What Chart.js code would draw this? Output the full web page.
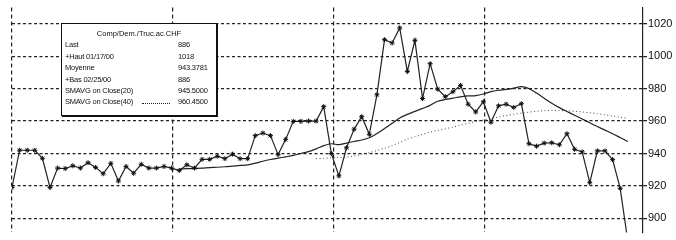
<!DOCTYPE html>
<html>
<head>
<meta charset="utf-8">
<script src="https://cdn.jsdelivr.net/npm/chart.js@4/dist/chart.umd.min.js"></script>
<style>
  html, body { margin: 0; padding: 0; background: #fff; }
  #wrap { position: relative; width: 676px; height: 240px; }
  #legendBox {
    position: absolute; left: 61px; top: 23px; width: 154px; height: 91px;
    background: #fff; border: 1px solid #111; box-shadow: 1px 1px 0 #111;
    font-family: "Liberation Sans Narrow", "Liberation Sans", Arial, sans-serif;
    font-size: 7.5px; color: #111; line-height: 11.4px;
  }
  #legendBox .title { text-align: center; margin-top: 4px; margin-bottom: 0; }
  #legendBox .row { position: relative; height: 11.4px; padding-left: 3px; letter-spacing: -0.2px; }
  #legendBox .row span.v { position: absolute; left: 116px; }
  #legendBox .dots { position: absolute; left: 80px; top: 7px; width: 28px; border-top: 1px dotted #222; }
</style>
</head>
<body>
<div id="wrap">
  <canvas id="chart" width="676" height="240"></canvas>
  <div id="legendBox"></div>
</div>
<script>
// closing prices, one per session
const prices = [
  919, 942, 942, 942, 937, 919, 931, 930.7, 932.4, 931,
  934.3, 931.4, 927.5, 933.9, 923, 932, 927.8, 933.3, 931, 931,
  932, 931, 929.5, 933, 931, 936.4, 936.4, 938.3, 936.8, 939.6,
  936.8, 936.8, 951, 952.6, 951, 939.3, 948.7, 959.8, 959.8, 960,
  960, 968.9, 940, 926.2, 943.5, 955, 962.7, 951.8, 976.2, 1010.2,
  1008.2, 1017.5, 990.6, 1009.8, 973.9, 995.4, 979.7, 975, 978.1, 982,
  970.4, 965.6, 971.9, 959.3, 969.4, 970.4, 968.4, 970.7, 946, 944.5,
  946.4, 946.6, 945.4, 952.2, 942.6, 941, 922, 941.6, 941.6, 936.2,
  918.5, 886
]

// 20 session moving average, first visible at session 23
const sma20Start = 23
const sma20 = [
  930.4, 930.6, 930.8, 931, 931.3, 931.5, 931.8, 932.2, 932.6, 933,
  934, 935.2, 936.3, 937.1, 937.9, 938.8, 940, 941.1, 942.8, 944.8,
  946, 945.4, 946.4, 947.4, 948.3, 949.7, 952.3, 955.4, 958.6, 961.9,
  964.1, 966, 967.8, 969.7, 972.2, 973.3, 974.1, 974.9, 975.5, 975.7,
  976.7, 978.2, 979, 979.5, 980.3, 981.2, 980, 977.3, 974.1, 971,
  968.3, 965.9, 963.6, 961.3, 958.9, 956.6, 954.4, 952.2, 949.8, 947.4
]

// 40 session moving average, first visible at session 41
const sma40Start = 41
const sma40 = [
  936.8, 937, 937.3, 937.5, 937.7, 938.5, 939.5, 940.5, 941.8, 943.2,
  944.8, 946.8, 948.8, 950.3, 951.8, 953.2, 954.2, 955.2, 956.3, 957.5,
  958.6, 959.7, 960.7, 961.6, 962.5, 963.4, 964.2, 964.9, 965.5, 966,
  966.4, 966.6, 966.5, 966.3, 966, 965.6, 965.1, 964.5, 963.9, 963.1,
  962.4, 961.6
]

// axis ticks
const yTicks = [900, 920, 940, 960, 980, 1000, 1020]
const monthLines = [1, 22.1, 43.3, 63.1]

// legend box text
const legendTitle = 'Comp/Dem./Truc.ac.CHF'
const legendLabels = ['Last', '+Haut 01/17/00', 'Moyenne', '+Bas 02/25/00', 'SMAVG on Close(20)', 'SMAVG on Close(40)']
const legendValues = ['886', '1018', '943.3781', '886', '945.5000', '960.4500']

var toPoints = function(values, start) {
  return values.map((v, i) => ({ x: start + i, y: v }))
}

var box = document.getElementById('legendBox')
var html = `<div class="title">${legendTitle}</div>`
legendLabels.forEach((label, i) => {
  var extra = i == legendLabels.length - 1 ? '<div class="dots"></div>' : ''
  html += `<div class="row">${label}<span class="v">${legendValues[i]}</span>${extra}</div>`
})
box.innerHTML = html

new Chart(document.getElementById('chart'), {
  type: 'line',
  data: {
    datasets: [
      {
        data: toPoints(prices, 1),
        borderColor: '#222',
        borderWidth: 1.2,
        pointStyle: 'star',
        pointRadius: 2.5,
        pointBorderWidth: 1,
        pointBorderColor: '#111',
        tension: 0
      },
      {
        data: toPoints(sma20, sma20Start),
        borderColor: '#222',
        borderWidth: 1.2,
        pointRadius: 0,
        tension: 0.3
      },
      {
        data: toPoints(sma40, sma40Start),
        borderColor: '#444',
        borderWidth: 1,
        borderDash: [1, 2.5],
        pointRadius: 0,
        tension: 0.3
      }
    ]
  },
  options: {
    responsive: false,
    animation: false,
    layout: { padding: { left: 12, top: 0, bottom: 0, right: 0 } },
    plugins: { legend: { display: false }, tooltip: { enabled: false } },
    scales: {
      x: {
        type: 'linear',
        min: 1,
        max: 84,
        afterBuildTicks: (scale) => { scale.ticks = monthLines.map(v => ({ value: v })) },
        afterFit: (scale) => { scale.height = 0 },
        ticks: { display: false },
        border: { display: false, dash: [4, 3] },
        grid: { color: '#222', lineWidth: 1.2, drawTicks: false }
      },
      y: {
        position: 'right',
        min: 891.3,
        max: 1030,
        afterBuildTicks: (scale) => { scale.ticks = yTicks.map(v => ({ value: v })) },
        afterFit: (scale) => { scale.width = 33 },
        ticks: {
          color: '#111',
          padding: 1,
          font: { family: 'Liberation Sans, Arial, sans-serif', size: 11 },
          callback: (v) => String(v)
        },
        border: { display: true, color: '#222', width: 1.2, dash: [3, 2.5] },
        grid: { color: '#222', lineWidth: 1.3, tickLength: 4 }
      }
    }
  }
})
</script>
</body>
</html>
